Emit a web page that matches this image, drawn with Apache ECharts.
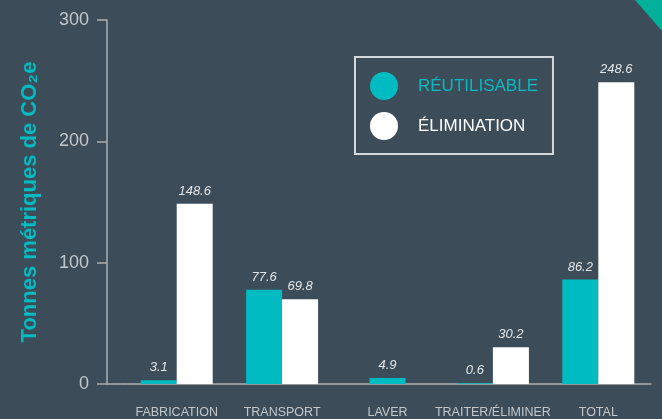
<!DOCTYPE html>
<html>
<head>
<meta charset="utf-8">
<script src="https://cdn.jsdelivr.net/npm/echarts@6/dist/echarts.min.js"></script>
<style>
html,body{margin:0;padding:0;background:#3c4d59;}
#c{width:662px;height:419px;}
</style>
</head>
<body>
<div id="c"></div>
<script>
var categories = ['FABRICATION', 'TRANSPORT', 'LAVER', 'TRAITER/ÉLIMINER', 'TOTAL'];
var reutilisable = [3.1, 77.6, 4.9, 0.6, 86.2];
var elimination = [148.6, 69.8, null, 30.2, 248.6];
var yTicks = [0, 100, 200, 300];
var seriesNames = ['RÉUTILISABLE', 'ÉLIMINATION'];
var yTitle = 'Tonnes métriques de CO₂e';

var TEAL = '#00bbc2';
var WHITE = '#ffffff';
var GRAY = '#c3c7ca';
var AXIS = '#a9afb3';
var GRID_LEFT = 124;
var Y_OFFSET = 17;

// categories with both series -> paired bars; categories with only one -> centred bar
var pairedReut = reutilisable.map(function (v, i) { return elimination[i] == null ? null : v; });
var singleReut = reutilisable.map(function (v, i) { return elimination[i] == null ? v : null; });

var labelStyle = {
  show: true, position: 'top', distance: 6,
  color: '#e2e5e7', fontStyle: 'italic', fontSize: 13,
  fontFamily: 'Liberation Sans',
  formatter: function (p) { return p.value == null ? '' : p.value.toFixed(1); }
};

var chart = echarts.init(document.getElementById('c'));
chart.setOption({
  backgroundColor: '#3c4d59',
  animation: false,
  textStyle: { fontFamily: 'Liberation Sans' },
  grid: { left: GRID_LEFT, right: 11, top: 20, bottom: 35 },
  legend: {
    orient: 'vertical', left: 355, top: 57,
    padding: [15, 15, 14, 15], itemGap: 12,
    itemWidth: 28, itemHeight: 28, icon: 'circle',
    borderColor: '#d5d8da', borderWidth: 2,
    selectedMode: false,
    textStyle: { fontSize: 17, padding: [0, 0, 0, 15], fontFamily: 'Liberation Sans' },
    data: [
      { name: seriesNames[0], textStyle: { color: TEAL } },
      { name: seriesNames[1], textStyle: { color: WHITE } }
    ]
  },
  xAxis: [{
    type: 'category', data: categories,
    axisLine: { lineStyle: { color: AXIS, width: 1.5 } },
    axisTick: { show: false },
    axisLabel: { interval: 0, color: GRAY, fontSize: 12.5, margin: 22 }
  }, {
    type: 'category', data: categories, show: false
  }],
  yAxis: {
    type: 'value', min: 0, max: 300, interval: 100, offset: Y_OFFSET,
    axisLine: { show: true, lineStyle: { color: AXIS, width: 1.5 } },
    axisTick: { show: true, length: 10, lineStyle: { color: AXIS, width: 1.5 } },
    splitLine: { show: false },
    axisLabel: {
      color: GRAY, fontSize: 18, margin: 18,
      customValues: yTicks
    },
    name: yTitle, nameLocation: 'middle', nameRotate: 90, nameGap: 66,
    nameTextStyle: { color: TEAL, fontSize: 22, fontWeight: 'bold', fontFamily: 'Liberation Sans' }
  },
  series: [{
    name: seriesNames[0], type: 'bar', xAxisIndex: 0,
    data: pairedReut, barWidth: 36, barGap: '0%',
    itemStyle: { color: TEAL }, label: labelStyle
  }, {
    name: seriesNames[1], type: 'bar', xAxisIndex: 0,
    data: elimination, barWidth: 36, barGap: '0%',
    itemStyle: { color: WHITE }, label: labelStyle
  }, {
    name: seriesNames[0], type: 'bar', xAxisIndex: 1,
    data: singleReut, barWidth: 36,
    itemStyle: { color: TEAL }, label: labelStyle
  }]
});

// extend the baseline from the offset y-axis to the grid, plus corner decoration
var y0 = chart.convertToPixel({ yAxisIndex: 0 }, 0);
chart.setOption({
  graphic: [{
    type: 'line', silent: true,
    shape: { x1: GRID_LEFT - Y_OFFSET, y1: y0, x2: GRID_LEFT, y2: y0 },
    style: { stroke: AXIS, lineWidth: 1.5 }
  }, {
    type: 'polygon', right: 0, top: 0, silent: true,
    shape: { points: [[0, 0], [27, 0], [27, 31]] },
    style: { fill: '#00b09a' }
  }]
});
</script>
</body>
</html>
